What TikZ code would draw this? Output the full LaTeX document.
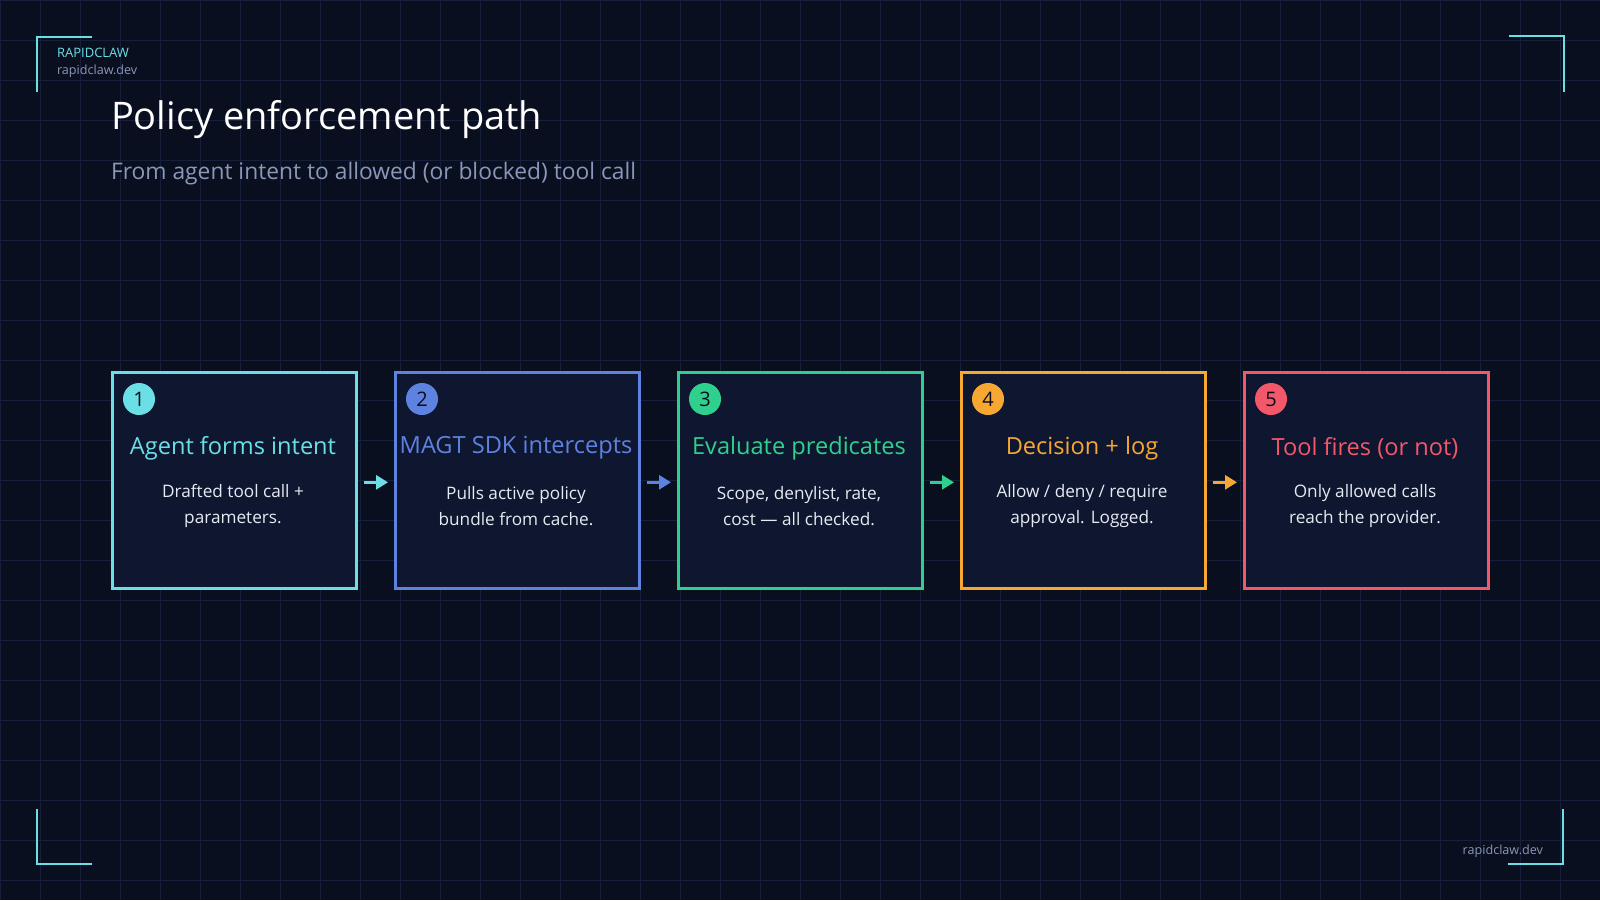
\documentclass[tikz,border=0pt]{standalone}
\usepackage{fontspec}
\setmainfont{Open Sans}
\usetikzlibrary{arrows.meta}
\definecolor{bg}{HTML}{0A0F1F}
\definecolor{gridc}{HTML}{16203A}
\definecolor{boxf}{HTML}{0F1630}
\definecolor{cA}{HTML}{6ADFE6}
\definecolor{cB}{HTML}{5E82E0}
\definecolor{cC}{HTML}{2FD08E}
\definecolor{cD}{HTML}{F7A833}
\definecolor{cE}{HTML}{F2576A}
\definecolor{subc}{HTML}{8A97B8}
\definecolor{bodyc}{HTML}{E6EAF2}
\begin{document}
\begin{tikzpicture}[x=0.5pt,y=-0.5pt,
  box/.style={draw=#1,line width=1.3pt,fill=boxf,minimum width=122pt,minimum height=108pt,anchor=north west,inner sep=0pt},
  num/.style={circle,fill=#1,minimum size=16pt,inner sep=0pt,text=bg,font=\fontsize{10}{10}\selectfont},
  ttl/.style={text=#1,font=\fontsize{11.8}{14}\selectfont},
  body/.style={text=bodyc,align=center,font=\fontsize{8.6}{13}\selectfont},
  arr/.style={draw=#1,line width=1.4pt,-{Triangle[length=6pt,width=7pt]}},
  brk/.style={draw=cA,line width=0.8pt}]
\fill[bg] (0,0) rectangle (1600,900);
\useasboundingbox (0,0) rectangle (1600,900);
\foreach \i in {0,40,...,1600} \draw[gridc,line width=0.5pt] (\i,0) -- (\i,900);
\foreach \j in {0,40,...,900} \draw[gridc,line width=0.5pt] (0,\j) -- (1600,\j);
\draw[brk] (92,37) -- (37,37) -- (37,92);
\draw[brk] (1509,36) -- (1564,36) -- (1564,92);
\draw[brk] (37,809) -- (37,864) -- (92,864);
\draw[brk] (1563,809) -- (1563,864) -- (1508,864);
\node[anchor=west,text=cA,font=\fontsize{6.5}{8}\selectfont] (brand) at (50,53) {RAPIDCLAW};
\node[anchor=west,text=subc,font=\fontsize{6.3}{8}\selectfont] (url) at (50,71) {rapidclaw.dev};
\node[anchor=west,text=white,font=\fontsize{19}{24}\selectfont] (title) at (104,120) {Policy enforcement path};
\node[anchor=west,text=subc,font=\fontsize{11.4}{14}\selectfont] (sub) at (104,174) {From agent intent to allowed (or blocked) tool call};
\node[anchor=east,text=subc,font=\fontsize{6.3}{8}\selectfont] (foot) at (1550,851) {rapidclaw.dev};
\foreach \n/\x/\c/\t/\a/\b in {1/111/cA/Agent forms intent/Drafted tool call +/parameters.,
  2/394/cB/MAGT SDK intercepts/Pulls active policy/bundle from cache.,
  3/677/cC/Evaluate predicates/{Scope, denylist, rate,}/{cost — all checked.},
  4/960/cD/Decision + log/{Allow {/} deny {/} require}/approval. Logged.,
  5/1243/cE/Tool fires (or not)/Only allowed calls/reach the provider.}{
  \node[box=\c] (b\n) at (\x,371) {};
  \node[num=\c] (n\n) at (\x+28,399) {\n};
  \node[ttl=\c] (t\n) at (\x+122,448) {\t};
  \node[body] (d\n) at (\x+122,506) {\a\\\b};
}
\foreach \p/\q/\c in {1/2/cA,2/3/cB,3/4/cC,4/5/cD}
  \draw[arr=\c] ([xshift=3pt,yshift=-1pt]b\p.east) -- ([xshift=-3pt,yshift=-1pt]b\q.west);
\end{tikzpicture}
\end{document}
